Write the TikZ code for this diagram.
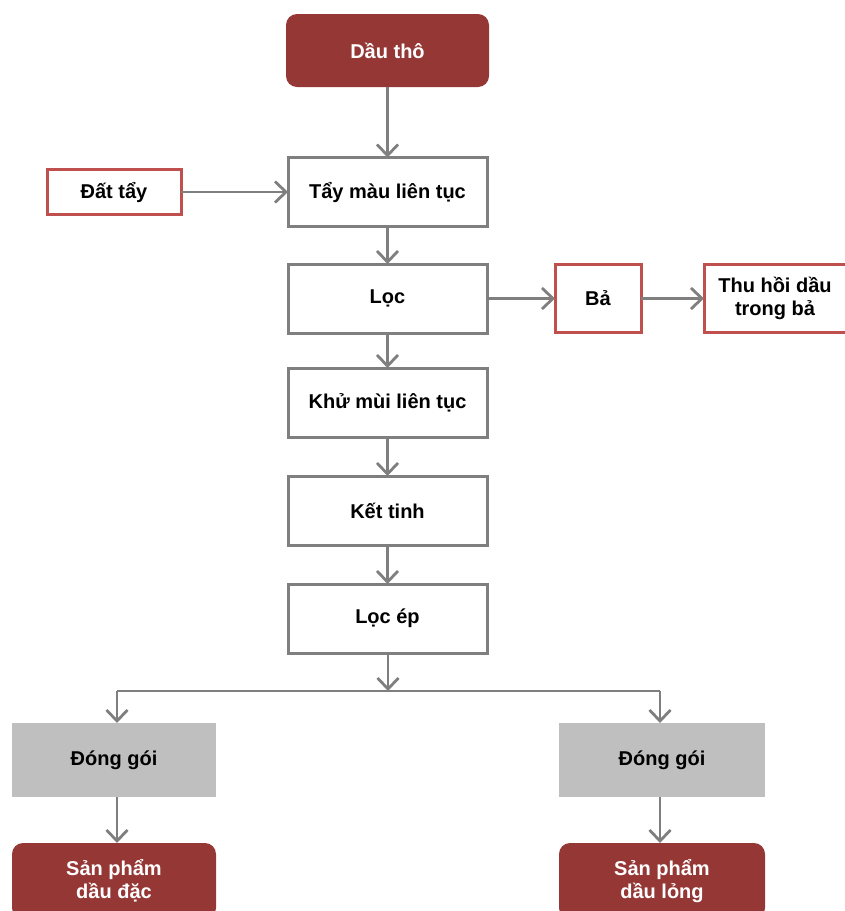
\documentclass[tikz,border=0pt]{standalone}
\usepackage{fontspec}
\setmainfont{Liberation Sans}
\usetikzlibrary{arrows.meta}
\definecolor{darkred}{HTML}{953735}
\definecolor{redline}{HTML}{C0504D}
\definecolor{greyline}{HTML}{7F7F7F}
\definecolor{greyfill}{HTML}{BFBFBF}
\tikzset{
  base/.style={font=\fontsize{20}{23}\selectfont\bfseries, align=center, inner sep=0pt, outer sep=0pt},
  terminal/.style={base, fill=darkred, text=white, rounded corners=11pt},
  procbox/.style={base, draw=greyline, line width=3pt, fill=white, minimum width=199pt, minimum height=69pt},
  sidebox/.style={base, draw=redline, line width=3pt, fill=white},
  packbox/.style={base, fill=greyfill, minimum width=204pt, minimum height=74pt},
  arr/.style={draw=greyline, line width=2.8pt, -{Straight Barb[length=11pt,width=21pt,line width=2.8pt]}},
  conn/.style={draw=greyline, line width=2.8pt}
}
\begin{document}
\begin{tikzpicture}[x=1pt,y=-1pt]
\useasboundingbox (0,0) rectangle (845,911);
\node[terminal, minimum width=203pt, minimum height=73pt] (dau) at (387.5,50.5) {Dầu thô};
\node[procbox] (tay) at (387.5,192) {Tẩy màu liên tục};
\node[sidebox, minimum width=134pt, minimum height=45pt] (dat) at (114,192) {Đất tẩy};
\node[procbox] (loc) at (387.5,298.5) {Lọc};
\node[sidebox, minimum width=86pt, minimum height=68pt] (ba) at (598,298.5) {Bả};
\node[sidebox, minimum width=142pt, minimum height=68pt] (thu) at (775,298.5) {Thu hồi dầu\\trong bả};
\node[procbox] (khu) at (387.5,402.5) {Khử mùi liên tục};
\node[procbox] (ket) at (387.5,510.5) {Kết tinh};
\node[procbox] (locep) at (387.5,618.5) {Lọc ép};
\node[packbox] (dg1) at (114,760) {Đóng gói};
\node[packbox, minimum width=206pt] (dg2) at (662,760) {Đóng gói};
\node[terminal, minimum width=204pt, minimum height=76pt] (sp1) at (114,881) {Sản phẩm\\dầu đặc};
\node[terminal, minimum width=206pt, minimum height=76pt] (sp2) at (662,881) {Sản phẩm\\dầu lỏng};
\coordinate (jc) at (388,691);
\coordinate (jl) at (117,691);
\coordinate (jr) at (660,691);
\draw[arr] (dau) -- (tay);
\draw[arr] (dat) -- (tay);
\draw[arr] (tay) -- (loc);
\draw[arr] (loc) -- (ba);
\draw[arr] (ba) -- (thu);
\draw[arr] (loc) -- (khu);
\draw[arr] (khu) -- (ket);
\draw[arr] (ket) -- (locep);
\draw[arr] (locep.south -| jc) -- (jc);
\draw[conn] (jl) -- (jr);
\draw[arr] (jl) -- (jl |- dg1.north);
\draw[arr] (jr) -- (jr |- dg2.north);
\draw[arr] (dg1.south -| jl) -- (jl |- sp1.north);
\draw[arr] (dg2.south -| jr) -- (jr |- sp2.north);
\end{tikzpicture}
\end{document}
